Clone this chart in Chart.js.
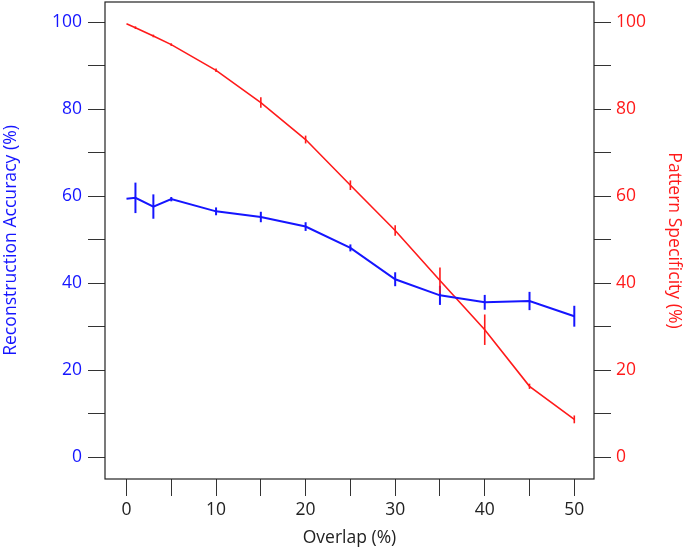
<!DOCTYPE html>
<html>
<head>
<meta charset="utf-8">
<script src="https://cdn.jsdelivr.net/npm/chart.js@4"></script>
<style>
  html, body { margin: 0; padding: 0; background: #fff; }
  #wrap { width: 685px; height: 549px; }
</style>
</head>
<body>
<div id="wrap"><canvas id="grafico"></canvas></div>
<script>
// datos
const overlap = [0, 1, 3, 5, 10, 15, 20, 25, 30, 35, 40, 45, 50];
const accuracy = [59.4, 59.6, 57.6, 59.3, 56.5, 55.2, 53.0, 48.1, 40.9, 37.2, 35.6, 35.9, 32.4];
const accuracyErr = [0, 3.5, 2.8, 0.5, 0.9, 1.2, 1.0, 0.8, 1.6, 2.2, 1.7, 2.1, 2.4];
const specificity = [99.6, 98.7, 96.8, 94.8, 88.9, 81.5, 73.0, 62.5, 52.1, 40.6, 29.3, 16.3, 8.7];
const specificityErr = [0, 0.3, 0.3, 0.3, 0.4, 1.2, 0.9, 1.1, 1.2, 3.0, 3.5, 0.6, 0.9];
const xTicks = [0, 5, 10, 15, 20, 25, 30, 35, 40, 45, 50];
const yTicks = [0, 10, 20, 30, 40, 50, 60, 70, 80, 90, 100];

const azul = '#1515ff';
const rojo = '#ff1a1a';
const fuente = 'Open Sans';

function puntos(ys) {
    return overlap.map((x, i) => ({ x: x, y: ys[i] }));
}

// barras de error verticales sin tapas
const barrasError = {
    id: 'barrasError',
    afterDatasetsDraw(chart) {
        const ctx = chart.ctx;
        chart.data.datasets.forEach((ds, i) => {
            const yScale = chart.scales[ds.yAxisID];
            const xScale = chart.scales.x;
            ctx.save();
            ctx.strokeStyle = ds.borderColor;
            ctx.lineWidth = ds.borderWidth;
            ds.data.forEach((p, j) => {
                const e = ds.errores[j];
                if (!e) return;
                const px = xScale.getPixelForValue(p.x);
                ctx.beginPath();
                ctx.moveTo(px, yScale.getPixelForValue(p.y - e));
                ctx.lineTo(px, yScale.getPixelForValue(p.y + e));
                ctx.stroke();
            });
            ctx.restore();
        });
    }
};

// marco alrededor del area del grafico
const marco = {
    id: 'marco',
    afterDraw(chart) {
        const a = chart.chartArea;
        const ctx = chart.ctx;
        ctx.save();
        ctx.strokeStyle = '#222';
        ctx.lineWidth = 1.2;
        ctx.strokeRect(a.left, a.top, a.right - a.left, a.bottom - a.top);
        ctx.restore();
    }
};

function ejeY(color, lado, titulo, ancho, pad) {
    return {
        type: 'linear',
        position: lado,
        min: -5,
        max: 104.6,
        afterBuildTicks: s => { s.ticks = yTicks.map(v => ({ value: v })); },
        afterFit: s => { s.width = ancho; s.paddingTop = 0; s.paddingBottom = 0; },
        grid: { drawOnChartArea: false, drawTicks: true, tickLength: 17, color: '#333', lineWidth: 1 },
        border: { display: false },
        ticks: {
            color: color,
            padding: pad,
            font: { family: fuente, size: 17.5 },
            callback: v => (v % 20 === 0 ? v : '')
        },
        title: {
            display: true,
            text: titulo,
            color: color,
            padding: { top: 0, bottom: 0 },
            font: { family: fuente, size: 17.6 }
        }
    };
}

new Chart(document.getElementById('grafico').getContext('2d'), {
    type: 'line',
    data: {
        datasets: [
            {
                label: 'Reconstruction Accuracy',
                data: puntos(accuracy),
                errores: accuracyErr,
                yAxisID: 'y',
                borderColor: azul,
                borderWidth: 2,
                pointRadius: 0,
                tension: 0,
                fill: false
            },
            {
                label: 'Pattern Specificity',
                data: puntos(specificity),
                errores: specificityErr,
                yAxisID: 'y2',
                borderColor: rojo,
                borderWidth: 1.6,
                pointRadius: 0,
                tension: 0,
                fill: false
            }
        ]
    },
    options: {
        responsive: true,
        maintainAspectRatio: false,
        animation: false,
        layout: { padding: { top: 2, left: 0, right: 0, bottom: 0 } },
        plugins: { legend: { display: false }, tooltip: { enabled: false } },
        scales: {
            x: {
                type: 'linear',
                min: -2.4,
                max: 52.2,
                afterBuildTicks: s => { s.ticks = xTicks.map(v => ({ value: v })); },
                afterFit: s => { s.height = 70; s.paddingLeft = 0; s.paddingRight = 0; },
                grid: { drawOnChartArea: false, drawTicks: true, tickLength: 17, color: '#333', lineWidth: 1 },
                border: { display: false },
                ticks: {
                    color: '#222',
                    padding: 4,
                    maxRotation: 0,
                    autoSkip: false,
                    font: { family: fuente, size: 17.5 },
                    callback: v => (v % 10 === 0 ? v : '')
                },
                title: {
                    display: true,
                    text: 'Overlap (%)',
                    color: '#222',
                    padding: { top: 0, bottom: 0 },
                    font: { family: fuente, size: 17.5 }
                }
            },
            y: ejeY(azul, 'left', 'Reconstruction Accuracy (%)', 105, 6),
            y2: ejeY(rojo, 'right', 'Pattern Specificity (%)', 91, 5)
        }
    },
    plugins: [barrasError, marco]
});
</script>
</body>
</html>
